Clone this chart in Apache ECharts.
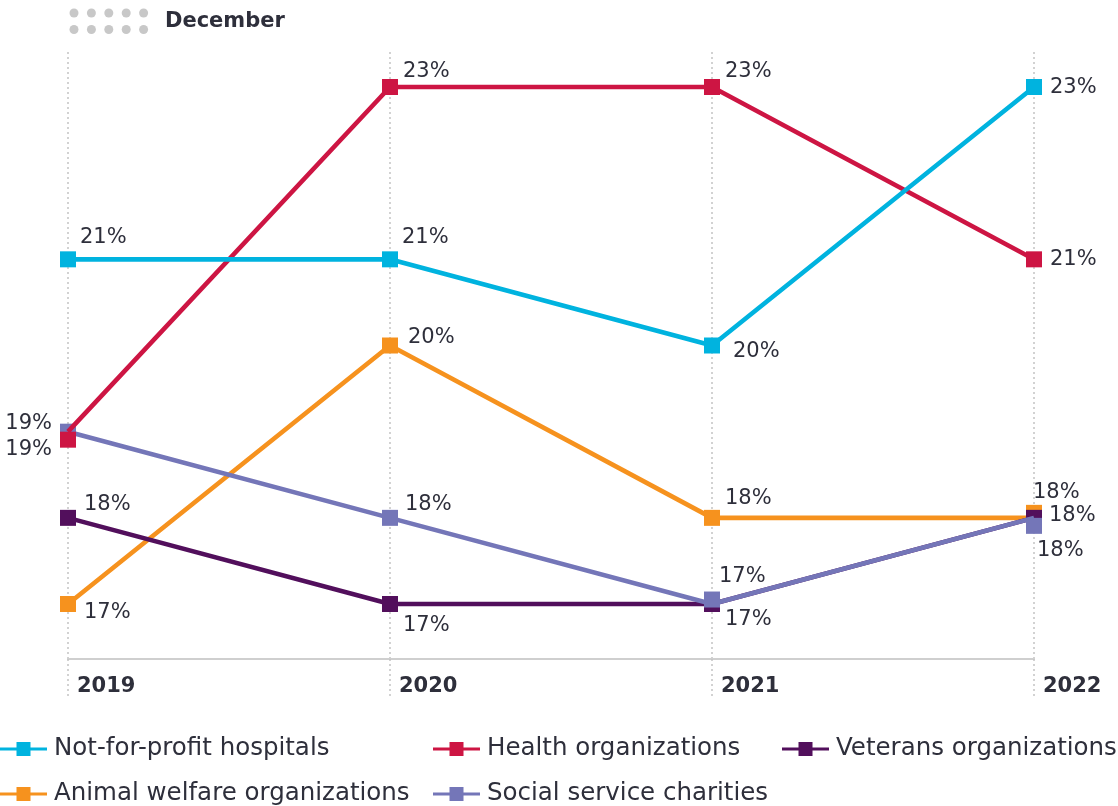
<!DOCTYPE html>
<html><head><meta charset="utf-8">
<script src="https://cdn.jsdelivr.net/npm/echarts@6/dist/echarts.min.js"></script>
<style>html,body{margin:0;padding:0;background:#fff}#c{width:1118px;height:806px}</style>
</head><body><div id="c"></div>
<script>
const years = ['2019', '2020', '2021', '2022'];
const hospitals = [21, 21, 20, 23];
const health = [19, 23, 23, 21];
const veterans = [18, 17, 17, 18];
const animal = [17, 20, 18, 18];
const social = [19, 18, 17, 18];
const seriesNames = ['Not-for-profit hospitals', 'Health organizations', 'Veterans organizations', 'Animal welfare organizations', 'Social service charities'];

// marker nudges (to keep overlapping markers visible) and label placement
const symOff = {
  hospitals: [0, 0, 0, 0], health: [8, 0, 0, 0], veterans: [0, 0, 0, 0],
  animal: [0, 0, 0, -5], social: [0, 0, -4.5, 8]
};
const labelPos = {
  hospitals: [[12, -22, 'left'], [12, -22, 'left'], [21, 6, 'left'], [16, 1, 'left']],
  health: [[-16, 10, 'right'], [13, -15, 'left'], [13, -15, 'left'], [16, 0, 'left']],
  veterans: [[16, -13, 'left'], [13, 22, 'left'], [13, 16, 'left'], [15, -2, 'left']],
  animal: [[16, 9, 'left'], [18, -8, 'left'], [13, -19, 'left'], [-1, -20, 'left']],
  social: [[-16, -8, 'right'], [15, -13, 'left'], [7, -22.5, 'left'], [3, 25, 'left']]
};

const FONT = 'DejaVu Sans';
const TXT = '#2e2f3b';

function mk(name, vals, pos, offs, color, z) {
  return {
    name: name, type: 'line', z: z,
    data: vals.map((v, i) => ({
      value: v,
      symbolOffset: [0, offs[i]],
      label: { offset: [pos[i][0], pos[i][1]], align: pos[i][2] }
    })),
    symbol: 'rect', symbolSize: 16,
    lineStyle: { width: 4.6, color: color },
    itemStyle: { color: color },
    emphasis: { disabled: true },
    label: {
      show: true, position: 'inside', verticalAlign: 'middle',
      fontFamily: FONT, fontSize: 21, color: TXT,
      formatter: p => Math.round(p.value) + '%'
    }
  };
}

const chart = echarts.init(document.getElementById('c'), null, { renderer: 'canvas' });
function lg(name, left, cy) {
  return {
    left: left, top: cy - 14, padding: 0, orient: 'horizontal',
    itemWidth: 47, itemHeight: 14,
    icon: 'path://M0,5.5H16.5V0H30.5V5.5H47V8.5H30.5V14H16.5V8.5H0Z',
    textStyle: { fontFamily: FONT, fontSize: 24.5, color: TXT, padding: [0, 0, 0, 2], lineHeight: 28 },
    selectedMode: false, data: [name]
  };
}
const dotEls = [];
for (let r = 0; r < 2; r++) for (let c = 0; c < 5; c++) {
  dotEls.push({ type: 'circle', shape: { cx: 74 + c * 17.4, cy: 13 + r * 16.5, r: 4.5 }, style: { fill: '#c8c8c8' } });
}
chart.setOption({
  animation: false,
  backgroundColor: '#fff',
  grid: { left: 68, right: 84, top: 52, bottom: 147 },
  xAxis: {
    type: 'category', data: years, boundaryGap: false,
    axisLine: { lineStyle: { color: '#cfcfcf', width: 2 } },
    axisTick: { show: true, length: 40, lineStyle: { color: '#c4c4c4', type: [2, 3], width: 1.5 } },
    splitLine: { show: true, lineStyle: { color: '#c4c4c4', type: [2, 3], width: 1.5 } },
    axisLabel: { align: 'left', padding: [0, 0, 0, 9], margin: 17, fontFamily: FONT, fontSize: 21, fontWeight: 'bold', color: TXT }
  },
  yAxis: { type: 'value', min: 16.362, max: 23.406, show: false, splitLine: { show: false } },
  legend: [
    lg(seriesNames[0], 0, 749),
    lg(seriesNames[1], 433, 749),
    lg(seriesNames[2], 782, 749),
    lg(seriesNames[3], 0, 794),
    lg(seriesNames[4], 433, 794)
  ],
  graphic: dotEls.concat([{ type: 'text', left: 165, top: 11, style: { text: 'December', fontFamily: FONT, fontSize: 21, fontWeight: 'bold', fill: TXT } }]),
  series: [
    mk(seriesNames[0], hospitals, labelPos.hospitals, symOff.hospitals, '#00b3df', 6),
    mk(seriesNames[1], health, labelPos.health, symOff.health, '#cd1543', 5),
    mk(seriesNames[2], veterans, labelPos.veterans, symOff.veterans, '#520f5c', 3),
    mk(seriesNames[3], animal, labelPos.animal, symOff.animal, '#f6921e', 2),
    mk(seriesNames[4], social, labelPos.social, symOff.social, '#7476b8', 4)
  ]
});
</script></body></html>
